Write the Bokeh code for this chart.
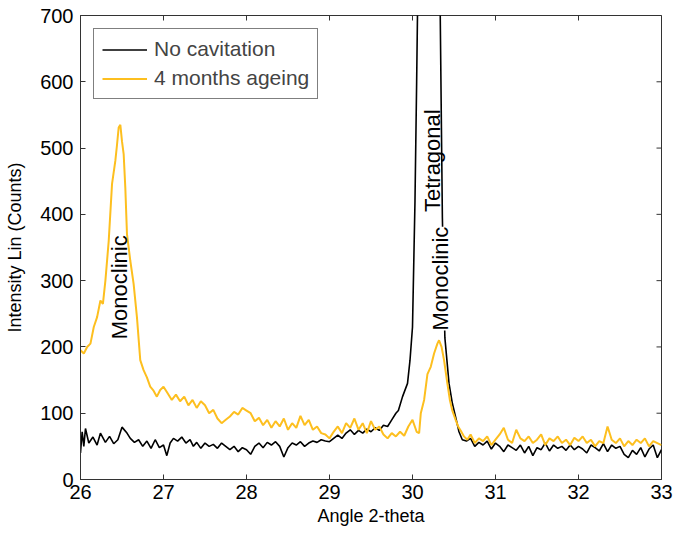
from math import pi
from bokeh.plotting import figure
from bokeh.models import FixedTicker, Label, Legend, LegendItem
from bokeh.embed import file_html
from bokeh.resources import INLINE

# ---------------- data ----------------
angle_black = [
    26.00, 26.02, 26.04, 26.06, 26.10, 26.15, 26.20, 26.24, 26.30, 26.35, 26.40, 26.45, 26.50, 26.52,
    26.56, 26.60, 26.65, 26.70, 26.75, 26.80, 26.85, 26.90, 26.95, 27.00, 27.04, 27.08, 27.12, 27.17,
    27.22, 27.27, 27.32, 27.36, 27.40, 27.45, 27.50, 27.55, 27.60, 27.65, 27.70, 27.75, 27.80, 27.85,
    27.90, 27.95, 28.00, 28.05, 28.10, 28.15, 28.20, 28.25, 28.30, 28.35, 28.40, 28.45, 28.50, 28.55,
    28.60, 28.65, 28.70, 28.75, 28.80, 28.85, 28.90, 28.95, 29.00, 29.05, 29.10, 29.15, 29.20, 29.25,
    29.30, 29.35, 29.40, 29.45, 29.50, 29.55, 29.60, 29.65, 29.70, 29.75, 29.80, 29.83, 29.88, 29.94,
    29.97, 30.00, 30.03, 30.05, 30.07, 30.12, 30.20, 30.30, 30.33, 30.36, 30.39, 30.44, 30.48, 30.52,
    30.56, 30.60, 30.65, 30.70, 30.75, 30.80, 30.85, 30.90, 30.95, 31.00, 31.05, 31.10, 31.15, 31.20,
    31.25, 31.30, 31.35, 31.40, 31.45, 31.50, 31.55, 31.60, 31.65, 31.70, 31.75, 31.80, 31.85, 31.90,
    31.95, 32.00, 32.05, 32.10, 32.15, 32.20, 32.25, 32.30, 32.35, 32.40, 32.45, 32.50, 32.55, 32.60,
    32.65, 32.70, 32.75, 32.80, 32.85, 32.90, 32.95, 33.00,
]
counts_black = [
    40, 72, 50, 77, 55, 64, 52, 70, 56, 65, 54, 60, 79, 76,
    70, 62, 56, 60, 50, 58, 47, 60, 48, 52, 36, 55, 62, 58,
    64, 55, 60, 50, 56, 47, 55, 50, 53, 47, 55, 50, 45, 50,
    42, 48, 45, 38, 50, 55, 48, 56, 52, 57, 50, 34, 48, 55,
    52, 57, 50, 55, 58, 56, 60, 58, 57, 62, 67, 62, 70, 75,
    68, 74, 70, 76, 72, 78, 74, 82, 80, 90, 100, 104, 125, 145,
    180, 230, 420, 600, 800, 1400, 1500, 1200, 750, 395, 214, 145, 115, 94,
    72, 60, 58, 62, 50, 56, 52, 58, 46, 55, 50, 42, 52, 48,
    44, 52, 40, 50, 36, 48, 45, 55, 43, 52, 47, 50, 44, 52,
    45, 50, 46, 40, 52, 48, 43, 54, 42, 52, 47, 50, 38, 33,
    44, 38, 48, 34, 46, 52, 33, 45,
]

angle_aged = [
    26.00, 26.04, 26.08, 26.12, 26.16, 26.20, 26.24, 26.27, 26.30, 26.34, 26.38, 26.42, 26.44, 26.46,
    26.48, 26.50, 26.52, 26.54, 26.56, 26.60, 26.64, 26.68, 26.72, 26.76, 26.80, 26.84, 26.88, 26.92,
    26.96, 27.00, 27.05, 27.10, 27.15, 27.20, 27.25, 27.30, 27.35, 27.40, 27.45, 27.50, 27.55, 27.60,
    27.65, 27.70, 27.75, 27.80, 27.85, 27.90, 27.95, 28.00, 28.05, 28.10, 28.15, 28.20, 28.25, 28.30,
    28.35, 28.40, 28.45, 28.50, 28.55, 28.60, 28.65, 28.70, 28.75, 28.80, 28.85, 28.90, 28.95, 29.00,
    29.05, 29.10, 29.15, 29.20, 29.25, 29.30, 29.35, 29.40, 29.45, 29.50, 29.55, 29.60, 29.65, 29.70,
    29.75, 29.80, 29.85, 29.90, 29.95, 30.00, 30.05, 30.08, 30.10, 30.14, 30.18, 30.22, 30.26, 30.30,
    30.32, 30.35, 30.38, 30.42, 30.45, 30.48, 30.52, 30.55, 30.58, 30.62, 30.66, 30.70, 30.75, 30.80,
    30.85, 30.90, 30.95, 31.00, 31.05, 31.10, 31.15, 31.20, 31.25, 31.30, 31.35, 31.40, 31.45, 31.50,
    31.55, 31.60, 31.65, 31.70, 31.75, 31.80, 31.85, 31.90, 31.95, 32.00, 32.05, 32.10, 32.15, 32.20,
    32.25, 32.30, 32.35, 32.40, 32.45, 32.50, 32.55, 32.60, 32.65, 32.70, 32.75, 32.80, 32.85, 32.90,
    32.95, 33.00,
]
counts_aged = [
    195, 190, 200, 205, 230, 245, 270, 265, 300, 360, 446, 481, 505, 531,
    535, 510, 491, 440, 370, 330, 295, 245, 180, 165, 154, 140, 134, 125,
    135, 140, 130, 120, 128, 118, 125, 112, 120, 108, 118, 112, 100, 105,
    92, 85, 90, 95, 102, 98, 108, 104, 100, 88, 93, 82, 90, 78,
    88, 80, 92, 75, 85, 78, 96, 82, 90, 75, 80, 70, 68, 62,
    72, 80, 70, 85, 78, 92, 75, 85, 70, 88, 75, 80, 68, 62,
    70, 65, 72, 66, 80, 90, 72, 70, 100, 120, 159, 170, 190, 205,
    210, 200, 180, 145, 120, 104, 90, 80, 74, 65, 60, 68, 55, 62,
    58, 65, 52, 60, 68, 78, 60, 55, 75, 62, 58, 65, 55, 60,
    68, 52, 62, 58, 65, 55, 60, 52, 63, 58, 65, 55, 60, 50,
    58, 55, 80, 60, 55, 62, 50, 58, 52, 60, 55, 62, 50, 58,
    55, 52,
]

x_ticks = [26, 27, 28, 29, 30, 31, 32, 33]
y_ticks = [0, 100, 200, 300, 400, 500, 600, 700]

label_texts = ["Monoclinic", "Tetragonal", "Monoclinic"]
label_x = [26.47, 30.237, 30.337]
label_y = [290, 481, 303]

series_names = ["No cavitation", "4 months ageing"]

# ---------------- styling ----------------
FONT = "Liberation Sans"
BLACK = "#000000"
GOLD = "#FDBF1F"
AXIS = "#333333"

X0, X1 = x_ticks[0], x_ticks[-1]
Y0, Y1 = y_ticks[0], y_ticks[-1]

p = figure(width=675, height=533, x_range=(X0, X1), y_range=(Y0, Y1),
           output_backend="svg", toolbar_location=None,
           min_border_left=80, min_border_right=14, min_border_top=15, min_border_bottom=54,
           x_axis_label="Angle 2-theta", y_axis_label="Intensity Lin (Counts)")
p.grid.visible = False
p.outline_line_color = AXIS
p.outline_line_width = 1
p.background_fill_color = "white"
p.border_fill_color = "white"

r_black = p.line(angle_black, counts_black, line_color=BLACK, line_width=1.6)
r_aged = p.line(angle_aged, counts_aged, line_color=GOLD, line_width=2)

# inward ticks on the top and right edges of the box (half of each dash is clipped away)
p.scatter(x_ticks, [Y1] * len(x_ticks), marker="dash", angle=pi / 2, size=10,
          line_color=AXIS, line_width=1)
p.scatter([X1] * len(y_ticks), y_ticks, marker="dash", size=10,
          line_color=AXIS, line_width=1)

for ax in (p.xaxis[0], p.yaxis[0]):
    ax.major_tick_in = 5
    ax.major_tick_out = 0
    ax.minor_tick_line_color = None
    ax.axis_line_color = AXIS
    ax.major_tick_line_color = AXIS
    ax.major_label_text_font = FONT
    ax.major_label_text_font_size = "20px"
    ax.major_label_text_color = "black"
    ax.axis_label_text_font = FONT
    ax.axis_label_text_font_size = "18px"
    ax.axis_label_text_font_style = "normal"
    ax.axis_label_text_color = "black"

p.xaxis[0].ticker = FixedTicker(ticks=x_ticks)
p.yaxis[0].ticker = FixedTicker(ticks=y_ticks)
p.xaxis[0].major_label_standoff = 5
p.xaxis[0].axis_label_standoff = 4
p.yaxis[0].major_label_standoff = 7
p.yaxis[0].axis_label_standoff = 12

for i, (t, lx, ly) in enumerate(zip(label_texts, label_x, label_y)):
    lab = Label(x=lx, y=ly, text=t, angle=pi / 2, text_align="center", text_baseline="middle",
                text_font=FONT, text_font_size="22px", text_color="black")
    if i == 2:
        lab.background_fill_color = "white"
    p.add_layout(lab)

legend = Legend(items=[LegendItem(label=series_names[0], renderers=[r_black]),
                       LegendItem(label=series_names[1], renderers=[r_aged])],
                location="top_left")
legend.margin = 13
legend.padding = 8
legend.spacing = 5
legend.glyph_width = 45
legend.glyph_height = 23
legend.label_height = 23
legend.label_standoff = 7
legend.label_text_font = FONT
legend.label_text_font_size = "21px"
legend.border_line_color = "black"
legend.border_line_width = 1
legend.background_fill_alpha = 1
p.add_layout(legend)

open("out.html", "w").write(file_html(p, INLINE))
